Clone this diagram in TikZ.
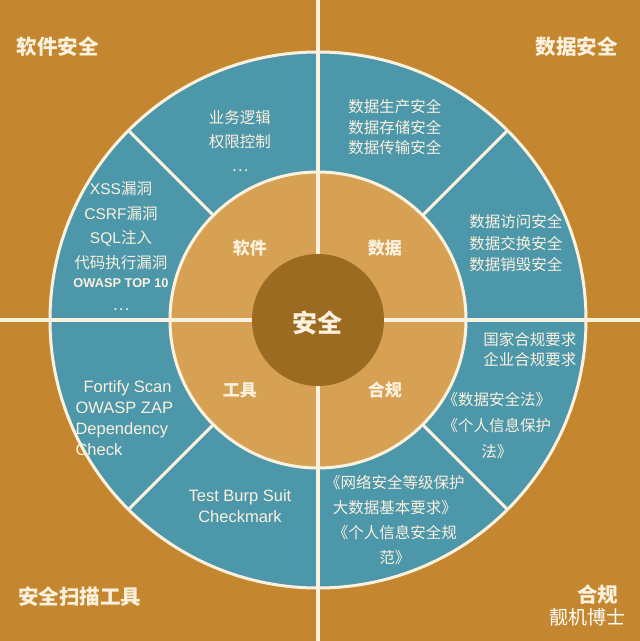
\documentclass[tikz,border=0pt]{standalone}
\usepackage{fontspec}
\setmainfont{Noto Sans CJK SC}
\newfontfamily\lat{Liberation Sans}

\definecolor{ochre}{HTML}{C4872F}
\definecolor{ringblue}{HTML}{4D97AA}
\definecolor{ringtan}{HTML}{D6A152}
\definecolor{corebrown}{HTML}{9C6B22}
\definecolor{cream}{HTML}{FBF1DE}

\begin{document}
\begin{tikzpicture}[x=1pt, y=1pt,
    sep/.style={draw=cream, line width=3pt},
    axis/.style={draw=cream, line width=4pt},
    title/.style={text=cream, font=\fontsize{20.5}{24}\selectfont\bfseries},
    hub/.style={text=cream, font=\fontsize{17}{20}\selectfont\bfseries},
    leaf/.style={text=cream, align=center, font=\fontsize{15.5}{#1}\selectfont},
    leaf/.default=23,
    tooltext/.style={text=cream, align=#1, font=\lat\fontsize{16.5}{21}\selectfont}]
        \fill[ochre] (-318,-321) rectangle (322,320);
        \useasboundingbox (-318,-321) rectangle (322,320);
        \filldraw[fill=ringblue, sep] (0,0) circle (268);
        \filldraw[fill=ringtan, sep]  (0,0) circle (148);
        \foreach \a in {45,135,225,315}
            \draw[sep] (\a:148) -- (\a:268);
        \draw[axis] (-318,0) -- (322,0);
        \draw[axis] (0,-321) -- (0,320);
        \fill[corebrown] (0,0) circle (66);

        % corners
        \node[title] (softsec) at (-260,273)  {软件安全};
        \node[title] (datasec) at (259,273)   {数据安全};
        \node[title] (toolsec) at (-238,-277) {安全扫描工具};
        \node[title] (compsec) at (280,-275)  {合规};
        \node[text=white, font=\fontsize{19}{22}\selectfont] (stamp) at (270,-297) {靓机博士};

        % inner ring
        \node[text=cream, font=\fontsize{25}{30}\selectfont\bfseries] (core) at (0,-3) {安全};
        \node[hub] (soft) at (-68,72)  {软件};
        \node[hub] (data) at (67,72)   {数据};
        \node[hub] (tool) at (-78,-70) {工具};
        \node[hub] (comp) at (67,-70)  {合规};

        % outer ring
        \node[leaf=24] (logic) at (-78,179) {业务逻辑\\权限控制\\…};
        \node[leaf=24.5] (vuln) at (-197,74)
              {{\lat XSS}漏洞\\{\lat CSRF}漏洞\\{\lat SQL}注入\\代码执行漏洞\\[-5pt]%
               {\lat\bfseries\fontsize{12.8}{14}\selectfont OWASP TOP 10}\\[-2pt]…};
        \node[leaf=20.5] (store) at (77,192.5) {数据生产安全\\数据存储安全\\数据传输安全};
        \node[leaf=21.5] (access) at (198,76.5) {数据访问安全\\数据交换安全\\数据销毁安全};
        \node[leaf=20] (rules) at (212,-30) {国家合规要求\\企业合规要求};
        \node[leaf=26] (laws) at (179,-106) {《数据安全法》\\《个人信息保护\\法》};
        \node[leaf=25] (norms) at (77,-200.5)
              {《网络安全等级保护\\大数据基本要求》\\《个人信息安全规\\范》};
        \node[tooltext=left, anchor=west] (scan) at (-246,-98)
              {\hspace*{8pt}Fortify Scan\\OWASP ZAP\\Dependency\\Check};
        \node[tooltext=center] (pentest) at (-78,-186) {Test Burp Suit\\Checkmark};
    \end{tikzpicture}
\end{document}
